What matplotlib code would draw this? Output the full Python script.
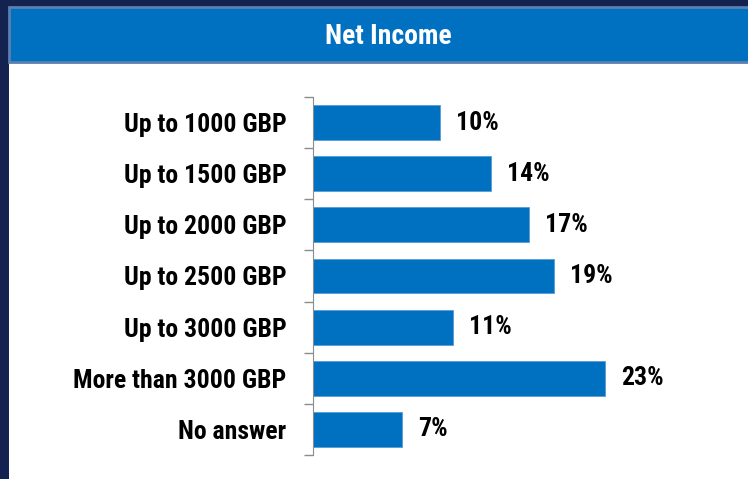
import matplotlib.pyplot as plt
from matplotlib.patches import Rectangle

categories = ['Up to 1000 GBP', 'Up to 1500 GBP', 'Up to 2000 GBP', 'Up to 2500 GBP',
              'Up to 3000 GBP', 'More than 3000 GBP', 'No answer']
shares = [10, 14, 17, 19, 11, 23, 7]

plt.rcParams['font.family'] = ['Roboto Condensed', 'Liberation Sans', 'DejaVu Sans']

W, H = 748, 479
fig = plt.figure(figsize=(W / 100, H / 100), dpi=100)
fig.patch.set_facecolor('#14224f')

# white panel and blue title bar behind the axes
fig.add_artist(Rectangle((9 / W, 0), 1 - 9 / W, (H - 62) / H, transform=fig.transFigure,
                         facecolor='white', edgecolor='none', zorder=-2))
fig.add_artist(Rectangle((9 / W, (H - 62) / H), 1, 55 / H, transform=fig.transFigure,
                         facecolor='#0070c0', edgecolor='#5b7fae', lw=2, zorder=-1))
fig.text(388 / W, (H - 36) / H, 'Net Income', color='white', fontsize=20,
         fontweight='bold', ha='center', va='center')

px = 12.7  # pixels per percent
xmax = 30
ax = fig.add_axes([313 / W, (H - 455) / H, xmax * px / W, (455 - 97) / H])
ax.set_facecolor('none')

y = list(range(len(categories)))
ax.barh(y, shares, height=0.68, color='#0070c0', edgecolor='#5b9bd5', lw=0.6)
for yi, v in zip(y, shares):
    ax.text(v + 1.25, yi, f'{v}%', va='center', ha='left', fontsize=18.5, fontweight='bold')

ax.set_xlim(0, xmax)
ax.set_ylim(len(categories) - 0.5, -0.5)
ax.set_yticks(y)
ax.set_yticklabels(categories, fontsize=18.5, fontweight='bold')
ax.tick_params(axis='y', which='major', length=0, pad=19)
ax.set_yticks([i - 0.5 for i in range(len(categories) + 1)], minor=True)
ax.tick_params(axis='y', which='minor', length=6.5, color='#8c8c8c', width=1)
ax.set_xticks([])
for s in ['top', 'right', 'bottom']:
    ax.spines[s].set_visible(False)
ax.spines['left'].set_color('#8c8c8c')

fig.savefig('out.png', dpi=100, facecolor=fig.get_facecolor())
